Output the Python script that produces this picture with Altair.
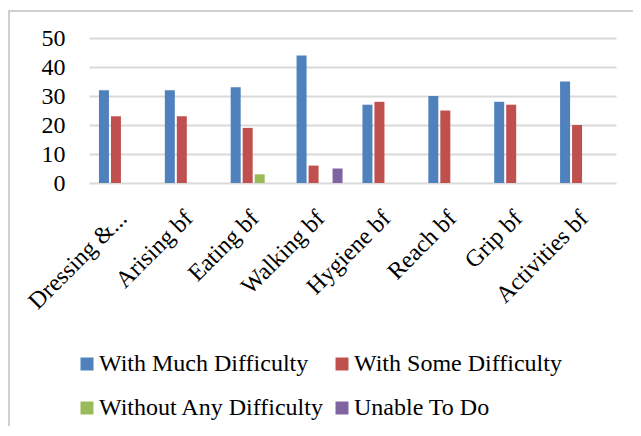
import altair as alt
import pandas as pd

categories = ["Dressing & Grooming bf", "Arising bf", "Eating bf", "Walking bf",
              "Hygiene bf", "Reach bf", "Grip bf", "Activities bf"]
series = ["With Much Difficulty", "With Some Difficulty",
          "Without Any Difficulty", "Unable To Do"]
much = [32, 32, 33, 44, 27, 30, 28, 35]
some = [23, 23, 19, 6, 28, 25, 27, 20]
without = [0, 0, 3, 0, 0, 0, 0, 0]
unable = [0, 0, 0, 5, 0, 0, 0, 0]
colors = ["#4F81BD", "#C0504D", "#9BBB59", "#8064A2"]

rows = []
for s, vals in zip(series, [much, some, without, unable]):
    for c, v in zip(categories, vals):
        rows.append({"cat": c, "series": s, "value": v})
df = pd.DataFrame(rows)

FONT = "Liberation Serif"

bars = alt.Chart(df).mark_bar().encode(
    x=alt.X("cat:N", sort=categories, title=None,
            scale=alt.Scale(paddingInner=0.302, paddingOuter=0.151),
            axis=alt.Axis(labelAngle=-45, labelAlign="right", labelBaseline="top",
                          labelPadding=23, labelOffset=-7, ticks=False, domain=False,
                          labelFont=FONT, labelFontSize=24, labelColor="#000000",
                          labelLimit=300,
                          labelExpr="length(datum.label) > 15 ? slice(datum.label, 0, 10) + '...' : datum.label")),
    xOffset=alt.XOffset("series:N", sort=series,
                        scale=alt.Scale(paddingInner=1/6, paddingOuter=0)),
    y=alt.Y("value:Q", title=None,
            scale=alt.Scale(domain=[0, 50], nice=False),
            axis=alt.Axis(values=[0, 10, 20, 30, 40, 50], ticks=False, domain=False,
                          grid=True, gridColor="#D9D9D9", gridWidth=2,
                          labelFont=FONT, labelFontSize=24, labelColor="#000000",
                          labelPadding=24)),
    color=alt.Color("series:N", sort=series,
                    scale=alt.Scale(domain=series, range=colors),
                    legend=alt.Legend(title=None, orient="none", legendX=-14, legendY=314,
                                      columns=2, direction="horizontal", padding=0,
                                      symbolType="square", symbolSize=169,
                                      symbolStrokeWidth=0, symbolOpacity=1,
                                      labelFont=FONT, labelFontSize=24, labelColor="#000000",
                                      labelOffset=0, rowPadding=20, columnPadding=5,
                                      labelLimit=400)),
)

frame = pd.DataFrame({"k": [0]})
left_border = alt.Chart(frame).mark_rule(color="#D0D0D0", strokeWidth=2).encode(
    x=alt.value(-80), y=alt.value(-28), y2=alt.value(450))
top_border = alt.Chart(frame).mark_rule(color="#D0D0D0", strokeWidth=2).encode(
    x=alt.value(-81), x2=alt.value(600), y=alt.value(-27))

chart = alt.layer(left_border, top_border, bars).properties(
    width=527, height=145,
    autosize=alt.AutoSizeParams(type="none"),
    padding={"left": 81, "top": 30, "right": 17, "bottom": 243},
).configure_view(stroke=None)

chart.save("out.html", embed_options={"renderer": "svg", "actions": False})
